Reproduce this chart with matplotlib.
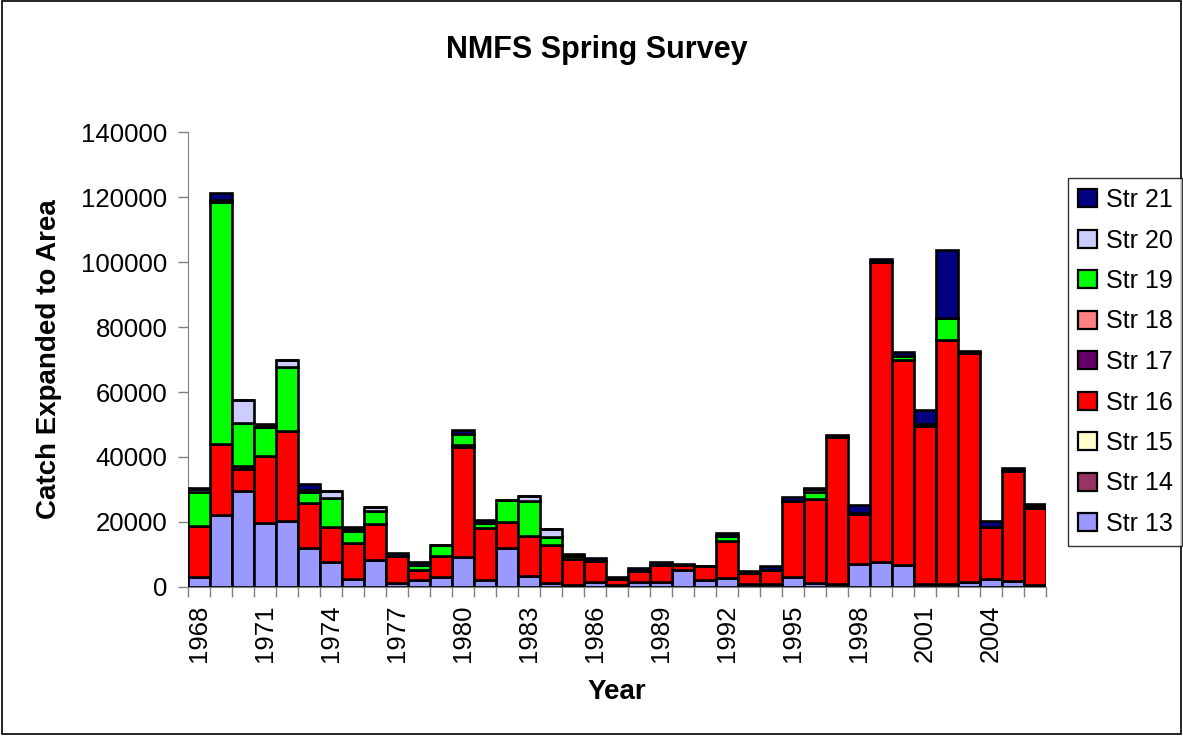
import matplotlib
matplotlib.use("Agg")
import matplotlib.pyplot as plt
from matplotlib.patches import Patch, Rectangle
import numpy as np

plt.rcParams['font.family'] = ['Liberation Sans', 'DejaVu Sans']

years = list(range(1968, 2007))

str13 = [3100, 22100, 29600, 19700, 20300, 11800, 7500, 2300, 8200, 1000,
         2000, 3100, 9000, 2100, 11800, 3300, 1000, 500, 1300, 500,
         1500, 1300, 5100, 2000, 2800, 800, 800, 2900, 1000, 800,
         7000, 7700, 6700, 800, 800, 1500, 2300, 1800, 500]
str14 = [0] * 39
str15 = [0] * 39
str16 = [15700, 21900, 6800, 20600, 27800, 13900, 11000, 11300, 11000, 8400,
         3300, 6500, 33900, 15900, 8000, 12400, 12000, 8000, 6600, 1900,
         3400, 5400, 1500, 4400, 11400, 3300, 4500, 23600, 26000, 45400,
         15300, 92400, 63100, 48700, 75200, 70400, 16000, 33900, 23900]
str17 = [0, 0, 800, 0, 0, 0, 0, 0, 0, 0,
         0, 0, 700, 0, 0, 0, 0, 0, 0, 0,
         0, 0, 0, 0, 0, 0, 0, 0, 0, 0,
         300, 0, 0, 0, 0, 0, 0, 0, 0]
str18 = [0] * 39
str19 = [10500, 74600, 13200, 9000, 19700, 3600, 8700, 3700, 4200, 0,
         1400, 3200, 3600, 1500, 6900, 10800, 2400, 900, 0, 0,
         0, 0, 0, 0, 1500, 0, 0, 0, 2300, 0,
         0, 0, 1400, 600, 6700, 0, 0, 0, 600]
str20 = [700, 500, 7000, 300, 2200, 500, 2400, 500, 1200, 0,
         0, 0, 0, 0, 0, 1500, 2400, 0, 0, 0,
         0, 0, 0, 0, 0, 0, 0, 0, 700, 0,
         0, 0, 0, 0, 0, 0, 0, 0, 0]
str21 = [300, 2100, 0, 500, 0, 2000, 0, 500, 0, 1000,
         800, 0, 1000, 1000, 0, 0, 0, 800, 800, 700,
         800, 800, 500, 0, 800, 800, 1000, 1200, 500, 500,
         2500, 800, 1000, 4300, 21000, 800, 2000, 1000, 600]

series = [
    ("Str 13", str13, "#9999FF"),
    ("Str 14", str14, "#993366"),
    ("Str 15", str15, "#FFFFCC"),
    ("Str 16", str16, "#FF0000"),
    ("Str 17", str17, "#660066"),
    ("Str 18", str18, "#FF8080"),
    ("Str 19", str19, "#00FF00"),
    ("Str 20", str20, "#CCCCFF"),
    ("Str 21", str21, "#000080"),
]

W, H = 1183, 736
fig = plt.figure(figsize=(W / 100, H / 100), dpi=100)
fig.patch.set_facecolor("white")

# plot area in pixel coordinates
x0, x1 = 188.3, 1045.5
y_top, y_bot = 132.4, 586.7
ax = fig.add_axes([x0 / W, (H - y_bot) / H, (x1 - x0) / W, (y_bot - y_top) / H])

pos = np.arange(len(years))
bottom = np.zeros(len(years))
handles = []
for name, vals, col in series:
    v = np.array(vals, dtype=float)
    ax.bar(pos, v, width=1.0, bottom=bottom, color=col,
           edgecolor="black", linewidth=1.9, zorder=3)
    bottom += v
    handles.append(Patch(facecolor=col, edgecolor="black", linewidth=1.6, label=name))

ax.set_xlim(-0.5, len(years) - 0.5)
ax.set_ylim(0, 140000)

# y axis
ax.set_yticks(np.arange(0, 140001, 20000))
ax.tick_params(axis="y", direction="out", length=7, width=1, color="#808080",
               labelsize=18.5, pad=8)

# x axis: tick marks at category boundaries, labels every third year
ax.set_xticks(np.arange(-0.5, len(years), 1.0), minor=True)
ax.set_xticks(pos[::3])
ax.set_xticklabels([str(y) for y in years[::3]], rotation=90)
ax.tick_params(axis="x", which="major", length=0, labelsize=18.5, pad=13)
ax.tick_params(axis="x", which="minor", direction="out", length=7, width=1,
               color="#808080")

for s in ("top", "right"):
    ax.spines[s].set_visible(False)
ax.spines["left"].set_color("#808080")
ax.spines["bottom"].set_color("#808080")

ax.set_ylabel("Catch Expanded to Area", fontsize=20, fontweight="bold", labelpad=14)
ax.set_xlabel("Year", fontsize=20, fontweight="bold", labelpad=12)

fig.text(597 / W, 1 - 50 / H, "NMFS Spring Survey", ha="center", va="center",
         fontsize=22, fontweight="bold")

leg = fig.legend(handles=handles[::-1], loc="upper left",
                 bbox_to_anchor=(1068 / W, 1 - 178 / H),
                 fontsize=18, frameon=True, fancybox=False,
                 edgecolor="black", handlelength=0.75, handleheight=0.75,
                 handletextpad=0.35, labelspacing=0.66, borderpad=0.4,
                 borderaxespad=0)
leg.get_frame().set_linewidth(1.0)

# outer chart border
fig.patches.append(Rectangle((2 / W, 2 / H), 1 - 4 / W, 1 - 3 / H,
                             transform=fig.transFigure, fill=False,
                             edgecolor="black", linewidth=1.2))

fig.savefig("out.png", dpi=100)
